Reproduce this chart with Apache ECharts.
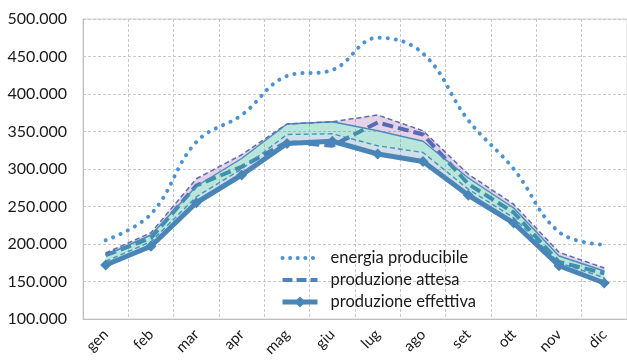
<!DOCTYPE html>
<html>
<head>
<meta charset="utf-8">
<script src="https://cdn.jsdelivr.net/npm/echarts@6/dist/echarts.min.js"></script>
<style>
html,body{margin:0;padding:0;background:#fff;}
#c{width:627px;height:361px;}
</style>
</head>
<body>
<div id="c"></div>
<script>
var months = ['gen','feb','mar','apr','mag','giu','lug','ago','set','ott','nov','dic'];
var yTicks = [100000,150000,200000,250000,300000,350000,400000,450000,500000];

var producibile = [205000, 240000, 336000, 372000, 424000, 432000, 475000, 454000, 365000, 300000, 216000, 199000];
var attesa      = [185000, 208000, 278000, 303000, 336000, 331000, 362000, 346000, 280000, 242000, 176000, 161000];
var effettiva   = [172000, 197000, 255000, 292000, 334000, 337000, 320000, 310000, 265000, 228000, 171000, 148000];
var limiteBasso = [177000, 203000, 263000, 300000, 346000, 347000, 331000, 322000, 273000, 235000, 175000, 155000];
var limiteMedio = [185000, 212000, 277000, 314000, 360000, 363000, 351000, 337000, 288000, 248000, 184000, 164000];
var limiteAlto  = [188000, 215000, 287000, 319000, 360000, 363000, 372000, 351000, 293000, 253000, 189000, 168000];

function diff(a, b){ return a.map(function(v,i){ return Math.max(0, v - b[i]); }); }
var bandGray = diff(limiteBasso, effettiva);
var bandTeal = diff(limiteMedio, limiteBasso);
var bandPurple = diff(limiteAlto, limiteMedio);

var FONT = 'Lato, "Open Sans", sans-serif';
var chart = echarts.init(document.getElementById('c'), null, {renderer:'canvas'});
chart.setOption({
  animation: false,
  backgroundColor: '#ffffff',
  grid: {left: 83, top: 19, width: 552, height: 300, show: true, borderColor: '#d0d0d0', borderWidth: 1, containLabel: false},
  legend: {
    data: [
      {name: 'energia producibile', itemStyle: {opacity: 0}, lineStyle: {width: 4, type: [0.1, 7.5], cap: 'round'}},
      {name: 'produzione attesa', itemStyle: {opacity: 0}, lineStyle: {width: 4, type: [10, 4]}},
      {name: 'produzione effettiva', lineStyle: {width: 5}}
    ],
    orient: 'vertical', left: 275, top: 244,
    itemWidth: 35, itemHeight: 14, itemGap: 4,
    textStyle: {fontFamily: FONT, fontSize: 16.5, color: '#1a1a1a', lineHeight: 18, padding: [0,0,0,8]}
  },
  xAxis: {
    type: 'category', data: months, boundaryGap: true,
    axisLine: {show: true, lineStyle: {color: '#bfbfbf', width: 1}},
    axisTick: {show: false},
    axisLabel: {rotate: 45, margin: 13, fontFamily: FONT, fontSize: 15, color: '#1a1a1a', interval: 0},
    splitLine: {show: true, interval: 0, lineStyle: {color: '#c8c8c8', type: [3,2], width: 1}}
  },
  yAxis: {
    type: 'value', min: yTicks[0], max: yTicks[yTicks.length-1], interval: yTicks[1]-yTicks[0],
    axisLine: {show: true, lineStyle: {color: '#bfbfbf', width: 1}},
    axisTick: {show: false},
    axisLabel: {margin: 16, fontFamily: FONT, fontSize: 16, color: '#1a1a1a',
      formatter: function(v){ return String(v).replace(/\B(?=(\d{3})+(?!\d))/g, '.'); }},
    splitLine: {show: true, lineStyle: {color: '#c8c8c8', type: [3,2], width: 1}}
  },
  series: [
    {name: 'energia producibile', type: 'line', data: producibile, smooth: 0.4, symbol: 'none',
     color: '#4a93d4',
     lineStyle: {color: '#4a93d4', width: 4, type: [0.1, 8], cap: 'round'}, z: 2},
    {name: 'produzione attesa', type: 'line', data: attesa, symbol: 'none',
     color: '#4f81bd',
     lineStyle: {color: '#4f81bd', width: 4, type: [11, 5]}, z: 2},
    {name: 'base', type: 'line', stack: 'band', data: effettiva, symbol: 'none',
     lineStyle: {opacity: 0}, z: 3, silent: true},
    {name: 'fascia1', type: 'line', stack: 'band', data: bandGray, symbol: 'none',
     lineStyle: {color: '#3a9ab8', width: 1.4, type: [5,3]},
     areaStyle: {color: 'rgba(70,120,170,0.35)'}, z: 3, silent: true},
    {name: 'fascia2', type: 'line', stack: 'band', data: bandTeal, symbol: 'none',
     lineStyle: {color: '#4a8cbc', width: 1.4},
     areaStyle: {color: 'rgba(39,175,141,0.46)'}, z: 3, silent: true},
    {name: 'fascia3', type: 'line', stack: 'band', data: bandPurple, symbol: 'none',
     lineStyle: {color: '#5a6db5', width: 1.5, type: [5,3]},
     areaStyle: {color: 'rgba(122,22,138,0.28)'}, z: 3, silent: true},
    {name: 'produzione effettiva', type: 'line', data: effettiva, symbol: 'diamond', symbolSize: 11,
     color: '#4a85b7',
     itemStyle: {color: '#4a85b7'},
     lineStyle: {color: '#4a85b7', width: 5}, z: 4}
  ]
});
</script>
</body>
</html>
